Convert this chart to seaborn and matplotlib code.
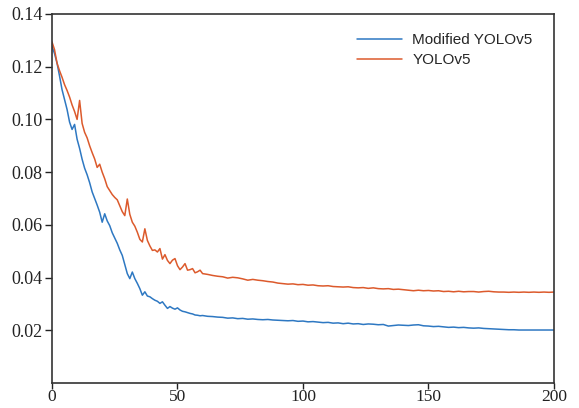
import numpy as np
import pandas as pd
import seaborn as sns
import matplotlib.pyplot as plt

# epochs: every epoch up to 60, then every second epoch
epochs = list(range(0, 61)) + list(range(62, 201, 2))

modified_loss = [
    0.1277, 0.1250, 0.1214, 0.1165, 0.1113, 0.1075, 0.1038, 0.0990, 0.0962, 0.0981,
    0.0925, 0.0890, 0.0849, 0.0815, 0.0790, 0.0760, 0.0725, 0.0700, 0.0675, 0.0648,
    0.0610, 0.0642, 0.0615, 0.0597, 0.0570, 0.0550, 0.0530, 0.0505, 0.0484, 0.0450,
    0.0415, 0.0396, 0.0421, 0.0396, 0.0378, 0.0358, 0.0333, 0.0346, 0.0330, 0.0327,
    0.0320, 0.0314, 0.0310, 0.0302, 0.0308, 0.0295, 0.0283, 0.0290, 0.0284, 0.0280,
    0.0285, 0.0277, 0.0272, 0.0270, 0.0267, 0.0264, 0.0262, 0.0258, 0.0257, 0.0255,
    0.0256,
    0.0253, 0.0252, 0.0250, 0.0249, 0.0246, 0.0247, 0.0244, 0.0245, 0.0242, 0.0243,
    0.0241, 0.0240, 0.0241, 0.0239, 0.0238, 0.0237, 0.0236, 0.0237, 0.0234, 0.0235,
    0.0232, 0.0233, 0.0231, 0.0229, 0.0230, 0.0227, 0.0228, 0.0225, 0.0227, 0.0224,
    0.0225, 0.0222, 0.0224, 0.0223, 0.0221, 0.0222, 0.0216, 0.0218, 0.0220, 0.0219,
    0.0218, 0.0220, 0.0221, 0.0217, 0.0216, 0.0214, 0.0215, 0.0213, 0.0211, 0.0212,
    0.0210, 0.0211, 0.0209, 0.0208, 0.0209, 0.0207, 0.0206, 0.0205, 0.0204, 0.0203,
    0.0202, 0.0202, 0.0201, 0.0201, 0.0201, 0.0201, 0.0201, 0.0201, 0.0201, 0.0201,
]

yolov5_loss = [
    0.1294, 0.1265, 0.1214, 0.1185, 0.1160, 0.1132, 0.1110, 0.1085, 0.1055, 0.1030,
    0.1000, 0.1072, 0.0985, 0.0951, 0.0930, 0.0900, 0.0874, 0.0850, 0.0818, 0.0830,
    0.0800, 0.0775, 0.0745, 0.0730, 0.0715, 0.0704, 0.0695, 0.0673, 0.0650, 0.0635,
    0.0698, 0.0640, 0.0610, 0.0595, 0.0572, 0.0545, 0.0535, 0.0585, 0.0541, 0.0520,
    0.0503, 0.0505, 0.0497, 0.0510, 0.0470, 0.0487, 0.0465, 0.0453, 0.0466, 0.0472,
    0.0445, 0.0430, 0.0440, 0.0453, 0.0428, 0.0430, 0.0434, 0.0418, 0.0422, 0.0428,
    0.0415,
    0.0412, 0.0408, 0.0405, 0.0403, 0.0398, 0.0401, 0.0399, 0.0395, 0.0390, 0.0393,
    0.0390, 0.0388, 0.0385, 0.0383, 0.0379, 0.0377, 0.0375, 0.0376, 0.0373, 0.0374,
    0.0371, 0.0372, 0.0369, 0.0368, 0.0369, 0.0366, 0.0365, 0.0364, 0.0365, 0.0362,
    0.0361, 0.0362, 0.0359, 0.0361, 0.0358, 0.0357, 0.0358, 0.0355, 0.0356, 0.0354,
    0.0352, 0.0350, 0.0352, 0.0350, 0.0351, 0.0349, 0.0350, 0.0347, 0.0348, 0.0346,
    0.0348, 0.0346, 0.0347, 0.0347, 0.0345, 0.0347, 0.0348, 0.0346, 0.0345, 0.0345,
    0.0344, 0.0345, 0.0344, 0.0345, 0.0344, 0.0345, 0.0344, 0.0345, 0.0344, 0.0345,
]

series_names = ["Modified YOLOv5", "YOLOv5"]
colors = {"Modified YOLOv5": "#2e78c2", "YOLOv5": "#dc5a2c"}
x_ticks = [0, 50, 100, 150, 200]
y_ticks = [0.02, 0.04, 0.06, 0.08, 0.10, 0.12, 0.14]


def build_frame() -> pd.DataFrame:
    parts = []
    for name, values in zip(series_names, [modified_loss, yolov5_loss]):
        parts.append(pd.DataFrame({"epoch": epochs, "loss": values, "model": name}))
    return pd.concat(parts, ignore_index=True)


def main() -> None:
    sns.set_theme(style="ticks")
    plt.rcParams["font.family"] = ["Liberation Serif", "DejaVu Serif"]

    df = build_frame()

    fig = plt.figure(figsize=(5.79, 4.08), dpi=100)
    ax = fig.add_axes([0.0898, 0.0613, 0.867, 0.9044])

    sns.lineplot(
        data=df,
        x="epoch",
        y="loss",
        hue="model",
        hue_order=series_names,
        palette=colors,
        linewidth=1.1,
        ax=ax,
    )

    ax.set_xlim(0, 200)
    ax.set_ylim(0, 0.14)
    ax.set_xticks(x_ticks)
    ax.set_xticklabels([str(t) for t in x_ticks])
    ax.set_yticks(y_ticks)
    ax.set_yticklabels([f"{t:.2f}" for t in y_ticks])
    ax.set_xlabel("")
    ax.set_ylabel("")
    ax.tick_params(direction="out", length=5, width=1.0, labelsize=13,
                   colors="#222222", pad=2)
    ax.tick_params(axis="x", length=4, pad=0, labelsize=12.5)
    for spine in ax.spines.values():
        spine.set_visible(True)
        spine.set_linewidth(1.2)
        spine.set_color("#333333")

    ax.legend(
        loc="upper right",
        frameon=False,
        prop={"family": ["Liberation Sans", "DejaVu Sans"], "size": 11},
        handlelength=2.9,
        handletextpad=0.7,
        labelspacing=0.4,
        bbox_to_anchor=(0.985, 0.985),
    )

    fig.savefig("out.png", dpi=100)


if __name__ == "__main__":
    main()
